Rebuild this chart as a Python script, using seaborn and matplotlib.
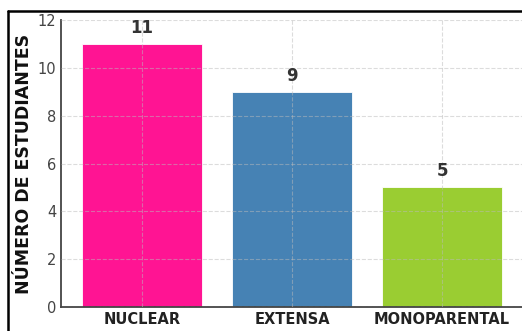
import pandas as pd
import matplotlib.pyplot as plt
import seaborn as sns
from matplotlib.lines import Line2D

# datos
categorias = ["NUCLEAR", "EXTENSA", "MONOPARENTAL"]
estudiantes = [11, 9, 5]
colores = ["#FF1493", "#4682B4", "#9ACD32"]

df = pd.DataFrame({"tipo": categorias, "n": estudiantes})

sns.set_style("white")
plt.rcParams['font.family'] = ['DejaVu Sans']

fig = plt.figure(figsize=(5.22, 3.31), dpi=100)
ax = fig.add_axes([61/522, 24/331, 462/522, 287/331])

sns.barplot(data=df, x="tipo", y="n", hue="tipo", palette=colores,
            width=0.8, saturation=1, legend=False, ax=ax,
            edgecolor="white", linewidth=0.6)

for i, v in enumerate(estudiantes):
    ax.text(i, v + 0.3, str(v), ha="center", va="bottom",
            fontsize=12, fontweight="bold", color="#333333")

ax.set_ylim(0, 12)
ax.set_xlim(-0.54, 2.54)
ax.set_yticks(range(0, 13, 2))
ax.set_xlabel("")
ax.set_ylabel("NÚMERO DE ESTUDIANTES", fontsize=12.5, fontweight="bold",
              color="#111111", labelpad=3)
ax.tick_params(axis="y", direction="in", labelsize=10.5, colors="#444444", length=4)
ax.tick_params(axis="x", direction="in", labelsize=10.5, length=4, colors="#333333")
for lab in ax.get_xticklabels():
    lab.set_fontweight("bold")
    lab.set_color("#222222")

ax.grid(True, linestyle="--", color="#bbbbbb", alpha=0.5, linewidth=0.8)
ax.set_axisbelow(False)
for s in ["top", "right"]:
    ax.spines[s].set_visible(False)
for s in ["left", "bottom"]:
    ax.spines[s].set_color("#444444")
    ax.spines[s].set_linewidth(1.3)

# marco recortado de la captura
fig.add_artist(Line2D([8/522, 1.0], [1 - 11/331, 1 - 11/331], color="black", lw=1.8, transform=fig.transFigure))
fig.add_artist(Line2D([8/522, 8/522], [0, 1 - 11/331], color="black", lw=1.8, transform=fig.transFigure))

fig.savefig("out.png", dpi=100)
